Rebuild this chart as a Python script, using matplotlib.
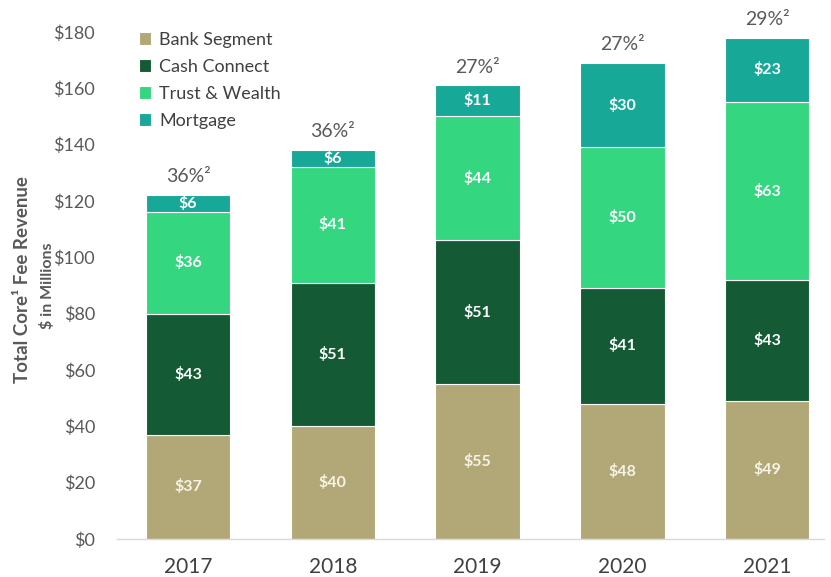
import matplotlib
matplotlib.use("Agg")
import matplotlib.pyplot as plt
import numpy as np

plt.rcParams['font.family'] = ['Lato', 'DejaVu Sans']

years = ['2017', '2018', '2019', '2020', '2021']
bank_segment = [37, 40, 55, 48, 49]
cash_connect = [43, 51, 51, 41, 43]
trust_wealth = [36, 41, 44, 50, 63]
mortgage = [6, 6, 11, 30, 23]
core_pct = ['36%²', '36%²', '27%²', '27%²', '29%²']

series = [
    ('Bank Segment', bank_segment, '#B2A877', '#F7F3E6'),
    ('Cash Connect', cash_connect, '#145A34', 'white'),
    ('Trust & Wealth', trust_wealth, '#34D67F', 'white'),
    ('Mortgage', mortgage, '#17A898', 'white'),
]

fig = plt.figure(figsize=(8.31, 5.77), dpi=100)
ax = fig.add_axes([0.141, 0.066, 0.85, 0.8786])

x = np.arange(len(years))
bottom = np.zeros(len(years))
for name, vals, color, txt in series:
    vals = np.array(vals, dtype=float)
    ax.bar(x, vals, width=0.585, bottom=bottom, color=color,
           edgecolor='white', linewidth=0.8, label=name)
    for xi, b, v in zip(x, bottom, vals):
        ax.text(xi, b + v / 2, f'${v:.0f}', ha='center', va='center',
                color=txt, fontsize=11.5, fontweight='bold')
    bottom += vals

# share of total revenue above each stack
for xi, total, pct in zip(x, bottom, core_pct):
    ax.text(xi, total + 3.5, pct, ha='center', va='bottom',
            color='#595959', fontsize=14, clip_on=False)

ax.set_xlim(-0.49, 4.39)
ax.set_ylim(0, 180)
ax.set_yticks(range(0, 181, 20))
ax.set_yticklabels([f'${v}' for v in range(0, 181, 20)])
ax.set_xticks(x)
ax.set_xticklabels(years)
ax.tick_params(axis='y', length=0, pad=16, labelsize=13, labelcolor='#595959')
ax.tick_params(axis='x', length=0, pad=13, labelsize=15, labelcolor='#404040')

for side in ['left', 'right', 'top']:
    ax.spines[side].set_visible(False)
ax.spines['bottom'].set_color('#D9D9D9')
ax.spines['bottom'].set_linewidth(1)

fig.text(0.027, 0.515, 'Total Core\u00b9 Fee Revenue', rotation=90,
         ha='center', va='center', fontsize=13.5, fontweight='bold', color='#595959')
fig.text(0.057, 0.504, '$ in Millions', rotation=90,
         ha='center', va='center', fontsize=11.5, fontweight='bold', color='#595959')

ax.legend(loc='upper left', bbox_to_anchor=(0.158, 0.957), bbox_transform=fig.transFigure,
          frameon=False, fontsize=13, handlelength=0.7, handleheight=0.7,
          handletextpad=0.45, labelspacing=0.6, borderaxespad=0, labelcolor='#404040')

fig.savefig('out.png', dpi=100)
